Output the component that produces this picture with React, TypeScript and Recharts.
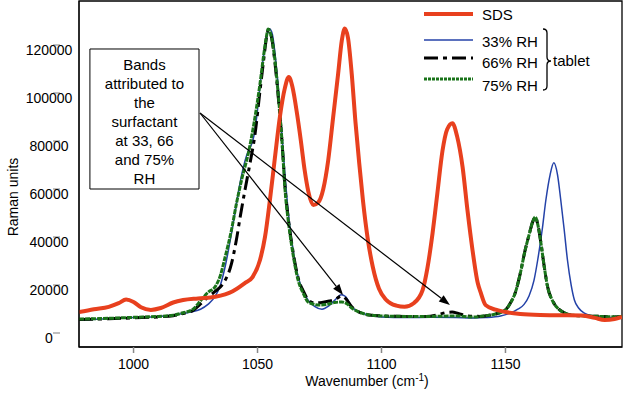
import {
  LineChart,
  Line,
  XAxis,
  YAxis,
  ReferenceArea,
  ReferenceLine,
  Label,
  Legend,
} from 'recharts';

const FONT = '"Liberation Sans", Arial, sans-serif';

// SDS reference spectrum
const sdsX = [978, 984, 990, 994, 997, 1000, 1003, 1007, 1011, 1016, 1020, 1026, 1033, 1040, 1045, 1048, 1051, 1053, 1055, 1057, 1059, 1061, 1062.6, 1064, 1066, 1067.5, 1069, 1070.5, 1072.5, 1074.5, 1076.5, 1078.5, 1080.5, 1082.5, 1084, 1085.2, 1086.5, 1088, 1089.5, 1091, 1092.5, 1094.5, 1096.5, 1099, 1102, 1106, 1109.3, 1113, 1116.6, 1118.5, 1120.6, 1122.5, 1124.6, 1126.5, 1128.6, 1130.5, 1132.7, 1134.7, 1136.7, 1138.8, 1140, 1142, 1146, 1150, 1156, 1164, 1172, 1181, 1186, 1190, 1194, 1197];
const sdsY = [10800, 12000, 13000, 14500, 16000, 15000, 12800, 11700, 12500, 14800, 15800, 16500, 17200, 19500, 23000, 25400, 32500, 42000, 57500, 75000, 92000, 104000, 108800, 105000, 93000, 82000, 70000, 61000, 55400, 56500, 62000, 74000, 92000, 110000, 124000, 129000, 125000, 110000, 90000, 73000, 57500, 41000, 29600, 20500, 15800, 13500, 13000, 14500, 20000, 29000, 43700, 60000, 78000, 87000, 89500, 84000, 71300, 53000, 36700, 23000, 19000, 13700, 11800, 10800, 10000, 9600, 9500, 9400, 8400, 7500, 7900, 8750];

// tablet, 33% RH
const rh33X = [978, 990, 1000, 1010, 1016, 1020, 1024, 1027, 1030, 1033, 1035, 1037, 1039.5, 1041.5, 1043.6, 1045, 1046.3, 1047.5, 1048.5, 1050, 1051, 1052.5, 1053.8, 1054.9, 1056, 1057, 1058.4, 1059.7, 1061, 1062.3, 1063.6, 1065, 1066.4, 1068.5, 1070.4, 1073, 1076, 1078.5, 1081.2, 1083.8, 1085.5, 1088, 1091, 1095, 1100, 1110, 1120, 1130, 1137, 1142, 1148, 1152, 1155, 1157.5, 1159.5, 1161.5, 1163, 1164.8, 1166.3, 1168, 1169.5, 1171, 1172.3, 1173.7, 1175, 1176.5, 1177.8, 1179.5, 1181.8, 1185, 1188, 1192, 1197];
const rh33Y = [7500, 8000, 8500, 9000, 9600, 10200, 11000, 12000, 14000, 17500, 22000, 30000, 43700, 56000, 68000, 74000, 78000, 80500, 84000, 95000, 105000, 118000, 126000, 128700, 126500, 119000, 104000, 87000, 69000, 53500, 42000, 32500, 25400, 19500, 15800, 13200, 12000, 13200, 15800, 18000, 17300, 13000, 10800, 9600, 8800, 8500, 8600, 8500, 8300, 8500, 9200, 10400, 12000, 14000, 17500, 24000, 32500, 45000, 57500, 68000, 73000, 68000, 57500, 45000, 32500, 22000, 15800, 12500, 10400, 9200, 8750, 8500, 8700];

// tablet, 66% RH
const rh66X = [978, 990, 1000, 1010, 1016, 1020, 1024, 1027.4, 1030, 1033, 1036, 1039.5, 1041.5, 1043, 1045, 1047, 1049, 1051, 1052.5, 1053.6, 1054.5, 1055.6, 1057, 1058.4, 1060, 1061, 1062.5, 1064, 1066.4, 1068.5, 1070.4, 1073, 1076, 1079, 1081.5, 1083.8, 1085.5, 1088, 1091, 1095, 1100, 1110, 1118, 1123, 1126, 1128.5, 1131, 1135, 1140, 1143, 1146, 1150, 1152, 1154, 1156, 1157.8, 1159.7, 1161, 1162, 1163.2, 1164.3, 1165.6, 1167, 1169, 1171, 1173.5, 1176.4, 1182, 1188, 1194, 1197];
const rh66Y = [7700, 8000, 8400, 8800, 9300, 10200, 11500, 14500, 17000, 19500, 22500, 31000, 41000, 50400, 62000, 73000, 85000, 103000, 116000, 125000, 128500, 125500, 115000, 100000, 80000, 64000, 49000, 38000, 25000, 19500, 16000, 14600, 14800, 15400, 16200, 17500, 16500, 13000, 10800, 9600, 9200, 9000, 9000, 9800, 10600, 10800, 10200, 9200, 9000, 9400, 10000, 11700, 14600, 19000, 27000, 36000, 43700, 48500, 50400, 46500, 39600, 30000, 21300, 15500, 12500, 10600, 9600, 9200, 9000, 8800, 9000];

// tablet, 75% RH
const rh75X = [978, 990, 1000, 1010, 1016, 1020, 1024, 1027.4, 1030, 1033, 1035, 1037, 1039.5, 1041.5, 1043.6, 1046.3, 1048.5, 1051, 1052.5, 1053.5, 1054.3, 1055.5, 1057, 1058.4, 1060, 1061, 1062.5, 1064, 1066.4, 1068.5, 1070.4, 1073, 1075, 1078, 1081, 1084, 1086, 1088, 1091, 1095, 1100, 1110, 1120, 1130, 1137, 1142, 1146, 1150, 1152, 1154, 1156, 1157.8, 1159.7, 1161, 1162, 1163.2, 1164.3, 1165.6, 1167, 1169, 1171, 1173.5, 1176.4, 1182, 1188, 1194, 1197];
const rh75Y = [7900, 8200, 8600, 9000, 9500, 10500, 12000, 16000, 19000, 21500, 26000, 34000, 45000, 56000, 66000, 77000, 89000, 106000, 118000, 125000, 128700, 126000, 116000, 101000, 80000, 63000, 48000, 37000, 24000, 18500, 15000, 14000, 13700, 14000, 14800, 15000, 14300, 12500, 10800, 9600, 9200, 9000, 9000, 9200, 8750, 9300, 10000, 11700, 14600, 19000, 27000, 36000, 43700, 48500, 50400, 46500, 39600, 30000, 21300, 15500, 12500, 10600, 9600, 9200, 9000, 8800, 9000];

const X_TICKS = [1000, 1050, 1100, 1150];
const Y_TICKS = [0, 20000, 40000, 60000, 80000, 100000, 120000];
const X_DOMAIN = [978, 1197];
const Y_DOMAIN = [-3750, 140417];

const BOX_LINES = ['Bands', 'attributed to', 'the', 'surfactant', 'at 33, 66', 'and 75%', 'RH'];

const zip = (xs: number[], ys: number[]) => xs.map((x, i) => ({ x, y: ys[i] }));

const series = [
  { name: 'SDS', color: '#E8401E', width: 4, dash: undefined as string | undefined, data: zip(sdsX, sdsY) },
  { name: '33% RH', color: '#2442A8', width: 1.5, dash: undefined, data: zip(rh33X, rh33Y) },
  { name: '66% RH', color: '#000000', width: 3, dash: '14 5 4 5', data: zip(rh66X, rh66Y) },
  { name: '75% RH', color: '#1A741A', width: 3, dash: '5 1', data: zip(rh75X, rh75Y) },
];

// draw order: blue, black, green, red on top
const drawOrder = [1, 2, 3, 0];

const YTick = (props: any) => {
  const { y, payload } = props;
  return (
    <g>
      <line x1={53} x2={60} y1={y - 5} y2={y - 5} stroke="#aaa" strokeWidth={1.5} />
      <text x={49} y={y + 5} textAnchor="middle" fontSize={14} fontFamily={FONT} fill="#000">
        {payload.value}
      </text>
    </g>
  );
};

const Arrow = (props: any) => {
  const { x1, y1, x2, y2 } = props;
  if ([x1, y1, x2, y2].some((v) => typeof v !== 'number')) return null;
  const ang = Math.atan2(y2 - y1, x2 - x1);
  const len = 11;
  const half = 4;
  const bx = x2 - len * Math.cos(ang);
  const by = y2 - len * Math.sin(ang);
  const px = -Math.sin(ang) * half;
  const py = Math.cos(ang) * half;
  return (
    <g>
      <line x1={x1} y1={y1} x2={bx} y2={by} stroke="#000" strokeWidth={1.2} />
      <polygon points={`${x2},${y2} ${bx + px},${by + py} ${bx - px},${by - py}`} fill="#000" />
    </g>
  );
};

const LegendBox = () => {
  const ox = 400;
  const rows = [
    { s: series[0], ly: 14, ty: 20 },
    { s: series[1], ly: 40, ty: 47 },
    { s: series[2], ly: 58, ty: 68 },
    { s: series[3], ly: 79, ty: 91 },
  ];
  return (
    <svg width={220} height={100} style={{ display: 'block' }}>
      {rows.map((r) => (
        <g key={r.s.name}>
          <line
            x1={424 - ox}
            x2={473 - ox}
            y1={r.ly}
            y2={r.ly}
            stroke={r.s.color}
            strokeWidth={r.s.width}
            strokeDasharray={r.s.name === '75% RH' ? '3 1' : r.s.dash}
          />
          <text x={482 - ox} y={r.ty} fontSize={15} fontFamily={FONT} fill="#000">
            {r.s.name}
          </text>
        </g>
      ))}
      <path
        d={`M ${543 - ox} 29 Q ${547 - ox} 29 ${547 - ox} 33 L ${547 - ox} 57 Q ${547 - ox} 61 ${551 - ox} 61 Q ${547 - ox} 61 ${547 - ox} 65 L ${547 - ox} 86 Q ${547 - ox} 90 ${543 - ox} 90`}
        fill="none"
        stroke="#000"
        strokeWidth={1.3}
      />
      <text x={553 - ox} y={66} fontSize={15} fontFamily={FONT} fill="#000">
        tablet
      </text>
    </svg>
  );
};

export default function App() {
  return (
    <div style={{ position: 'absolute', left: 0, top: 0, width: 627, height: 393, background: '#fff' }}>
      <LineChart width={627} height={393} margin={{ top: 1, right: 5, left: 0, bottom: 0 }}>
        <XAxis
          type="number"
          dataKey="x"
          domain={X_DOMAIN}
          ticks={X_TICKS}
          allowDataOverflow
          height={46}
          axisLine={{ stroke: '#000' }}
          tickLine={{ stroke: '#888', strokeWidth: 1.5 }}
          tickSize={6}
          tickMargin={6}
          tick={{ fontSize: 14, fontFamily: FONT, fill: '#000' }}
        >
          <Label
            content={() => (
              <text x={367} y={386} textAnchor="middle" fontSize={14} fontFamily={FONT} fill="#000">
                Wavenumber (cm
                <tspan dy={-5} fontSize={10}>-1</tspan>
                <tspan dy={5}>)</tspan>
              </text>
            )}
          />
        </XAxis>
        <YAxis
          type="number"
          dataKey="y"
          domain={Y_DOMAIN}
          ticks={Y_TICKS}
          allowDataOverflow
          width={79}
          axisLine={{ stroke: '#000' }}
          tickLine={false}
          tick={<YTick />}
        >
          <Label
            content={() => (
              <text
                x={13}
                y={197}
                transform="rotate(-90 13 197)"
                textAnchor="middle"
                dominantBaseline="central"
                fontSize={14}
                fontFamily={FONT}
                fill="#000"
              >
                Raman units
              </text>
            )}
          />
        </YAxis>
        <ReferenceArea
          x1={X_DOMAIN[0]}
          x2={X_DOMAIN[1]}
          y1={Y_DOMAIN[0]}
          y2={Y_DOMAIN[1]}
          fill="none"
          fillOpacity={0}
          stroke="#000"
          strokeWidth={1.3}
          ifOverflow="visible"
        />
        {drawOrder.map((i) => {
          const s = series[i];
          return (
            <Line
              key={s.name}
              name={s.name}
              data={s.data}
              dataKey="y"
              type="monotone"
              stroke={s.color}
              strokeWidth={s.width}
              strokeDasharray={s.dash}
              dot={false}
              activeDot={false}
              isAnimationActive={false}
            />
          );
        })}
        <ReferenceArea
          x1={982.4}
          x2={1026.4}
          y1={62080}
          y2={120420}
          fill="#fff"
          fillOpacity={1}
          stroke="#000"
          strokeWidth={1}
          ifOverflow="visible"
        >
          <Label
            content={(p: any) => {
              const vb = p.viewBox || { x: 90, y: 49, width: 109, height: 140 };
              const cx = vb.x + vb.width / 2;
              return (
                <text textAnchor="middle" fontSize={15} fontFamily={FONT} fill="#000">
                  {BOX_LINES.map((t, k) => (
                    <tspan key={k} x={cx} y={vb.y + 21 + k * 19}>
                      {t}
                    </tspan>
                  ))}
                </text>
              );
            }}
          />
        </ReferenceArea>
        <ReferenceLine
          segment={[{ x: 1026.8, y: 93750 }, { x: 1084.5, y: 17910 }]}
          ifOverflow="visible"
          shape={<Arrow />}
        />
        <ReferenceLine
          segment={[{ x: 1026.8, y: 93750 }, { x: 1127.6, y: 13740 }]}
          ifOverflow="visible"
          shape={<Arrow />}
        />
        <Legend
          layout="vertical"
          align="center"
          verticalAlign="middle"
          wrapperStyle={{ top: 0, left: 400, width: 220, height: 100 }}
          content={() => <LegendBox />}
        />
      </LineChart>
    </div>
  );
}
